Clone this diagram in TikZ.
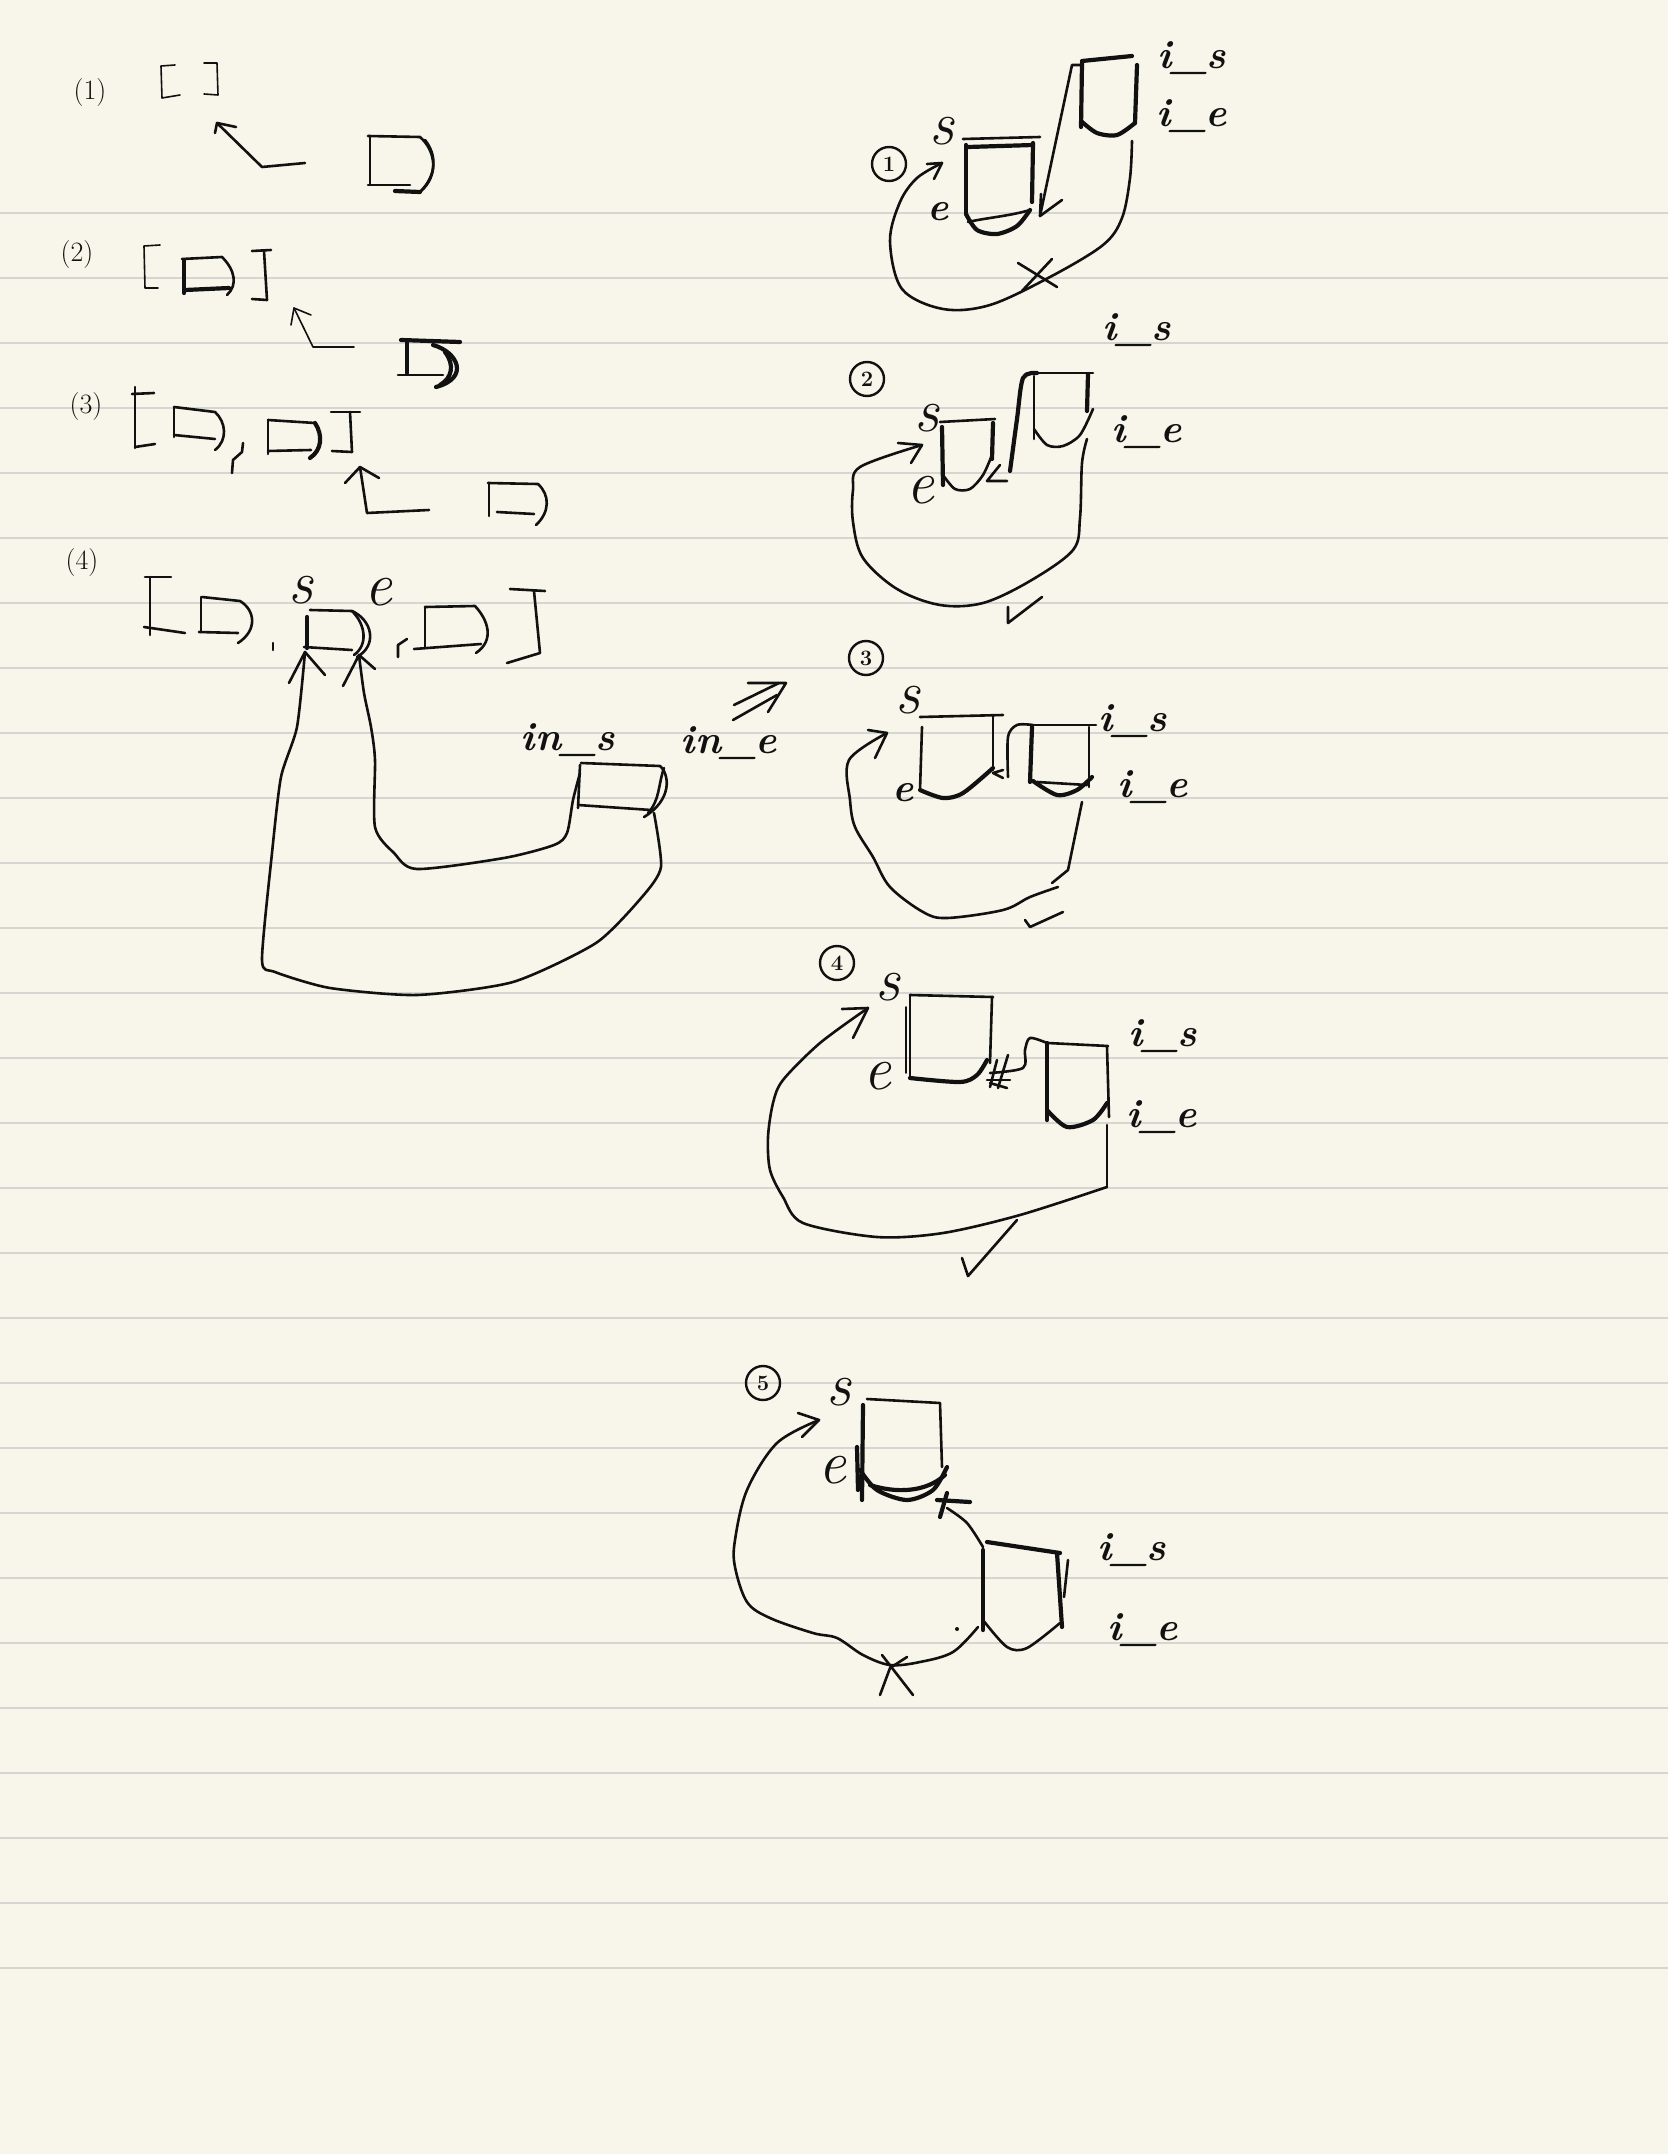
\documentclass[tikz,border=0pt]{standalone}
\usepackage{tikz}
\definecolor{paperbg}{HTML}{F8F6EA}
\definecolor{ruleline}{HTML}{D5D5D2}
\definecolor{ink}{HTML}{111111}
\tikzset{
  fine/.style={draw=ink,line width=1.6pt,line cap=round,line join=round},
  pen/.style={draw=ink,line width=2.6pt,line cap=round,line join=round},
  heavy/.style={draw=ink,line width=4.2pt,line cap=round,line join=round},
  tag/.style={inner sep=0pt,text=ink,font=\fontsize{28}{28}\selectfont},
  hand/.style={inner sep=0pt,text=ink,font=\bfseries\itshape\fontsize{40}{40}\selectfont},
  handbig/.style={inner sep=0pt,text=ink,font=\itshape\fontsize{62}{62}\selectfont},
  stepno/.style={circle,draw=ink,line width=2.4pt,inner sep=2pt,minimum size=34pt,text=ink,font=\bfseries\fontsize{22}{22}\selectfont},
}
\begin{document}
\begin{tikzpicture}[x=1pt,y=-1pt]
    % Paper
    \fill[paperbg] (0,0) rectangle (1668,2154);
    \useasboundingbox (0,0) rectangle (1668,2154);
    \foreach \i in {0,...,27}
        \draw[ruleline,line width=2.4pt] (0,213+65*\i) -- (1668,213+65*\i);

    % Left column labels
    \node[tag] (n1) at (90,93) {(1)};
    \node[tag] (n2) at (77,255) {(2)};
    \node[tag] (n3) at (86,407) {(3)};
    \node[tag] (n4) at (82,563) {(4)};

    % (1)
    \draw[fine] (175,65) -- (161,66) -- (162,98) -- (180,95);
    \draw[fine] (204,63) -- (217,63) -- (218,95) -- (204,94);
    \draw[pen] (370,136) -- (370,185);
    \draw[pen] (368,136) -- (420,137) .. controls (435,150) and (440,175) .. (420,192);
    \draw[pen] (368,185) -- (410,185);
    \draw[heavy] (395,191) -- (420,192);
    \draw[pen] (425,140) .. controls (437,155) and (437,175) .. (420,192);
    \coordinate (a1tail) at (305,163);
    \coordinate (a1tip) at (217,123);
    \draw[pen] (a1tail) -- (262,167) -- (a1tip);
    \draw[pen] (215,133) -- (a1tip) -- (236,127);

    % (2)
    \draw[fine] (160,245) -- (144,246) -- (145,288) -- (158,288);
    \draw[heavy] (184,260) -- (184,293);
    \draw[pen] (182,259) -- (222,257) .. controls (235,270) and (238,285) .. (227,295);
    \draw[heavy] (185,290) -- (229,288);
    \draw[pen] (252,251) -- (271,250);
    \draw[pen] (264,251) -- (267,300);
    \draw[pen] (252,299) -- (267,300);
    \coordinate (a2tail) at (354,347);
    \coordinate (a2tip) at (294,308);
    \draw[fine] (a2tail) -- (313,347) -- (a2tip);
    \draw[fine] (291,325) -- (a2tip) -- (311,315);
    \draw[heavy] (407,340) -- (407,373);
    \draw[heavy] (401,340) -- (460,342);
    \draw[pen] (398,375) -- (443,375);
    \draw[heavy] (433,345) .. controls (458,352) and (470,378) .. (436,387);
    \draw[heavy] (445,352) .. controls (455,365) and (452,378) .. (440,385);

    % (3)
    \draw[pen] (132,394) -- (154,393);
    \draw[pen] (135,387) -- (135,448);
    \draw[pen] (135,447) -- (155,444);
    \draw[pen] (174,407) -- (174,437);
    \draw[pen] (174,407) -- (215,412) .. controls (226,422) and (228,440) .. (215,450);
    \draw[pen] (174,435) -- (215,439);
    \draw[pen] (243,443) -- (242,452) -- (233,460) -- (232,473);
    \draw[pen] (268,420) -- (268,454);
    \draw[pen] (268,420) -- (315,423);
    \draw[heavy] (315,423) .. controls (323,435) and (322,450) .. (310,458);
    \draw[pen] (268,451) -- (311,450);
    \draw[pen] (331,412) -- (360,412);
    \draw[pen] (350,412) -- (352,452);
    \draw[pen] (332,451) -- (352,452);
    \coordinate (a3tail) at (429,510);
    \coordinate (a3tip) at (360,467);
    \draw[pen] (a3tail) -- (367,513) -- (a3tip);
    \draw[pen] (345,483) -- (a3tip) -- (379,478);
    \draw[pen] (489,483) -- (489,516);
    \draw[pen] (488,483) -- (538,484) .. controls (550,495) and (550,512) .. (536,525);
    \draw[pen] (497,512) -- (534,514);

    % (4) list
    \draw[pen] (171,577) -- (145,577);
    \draw[pen] (150,577) -- (150,635);
    \draw[pen] (144,627) -- (185,633);
    \draw[pen] (201,597) -- (201,632);
    \draw[pen] (202,597) -- (240,601) .. controls (255,610) and (258,630) .. (238,643);
    \draw[pen] (199,632) -- (238,633);
    \draw[pen] (273,643) -- (273,650);
    \draw[heavy] (307,617) -- (307,648);
    \draw[pen] (310,610) -- (352,611) .. controls (372,620) and (378,645) .. (357,657);
    \draw[pen] (352,611) .. controls (366,625) and (368,645) .. (354,655);
    \draw[pen] (304,647) -- (352,650);
    \draw[pen] (407,639) -- (398,645) -- (398,657);
    \draw[pen] (425,607) -- (425,647);
    \draw[pen] (425,607) -- (475,606) .. controls (488,620) and (495,640) .. (476,653);
    \draw[pen] (414,649) -- (481,644);
    \draw[pen] (510,589) -- (545,591);
    \draw[pen] (534,591) -- (540,653) -- (507,663);
    \node[handbig] (s4) at (301,590) {s};
    \node[handbig] (e4) at (378,592) {e};

    % (4) in-box and its links
    \draw[pen] (581,763) -- (660,766) .. controls (670,775) and (672,800) .. (644,817);
    \draw[pen] (664,768) .. controls (658,785) and (660,800) .. (648,813);
    \draw[pen] (580,765) -- (578,808);
    \draw[pen] (578,805) -- (651,810);
    \node[hand] (ins) at (568,740) {in\_s};
    \node[hand] (ine) at (729,743) {in\_e};
    \coordinate (l4tip) at (305,652);
    \coordinate (r4tip) at (359,655);
    \draw[pen] plot[smooth,tension=0.4] coordinates {(654,813) (661,867) (642,897) (596,943) (513,982) (417,995) (330,988) (275,972) (262,960) (272,853) (281,777) (297,727) (l4tip)};
    \draw[pen] (289,683) -- (l4tip) -- (325,675);
    \draw[pen] plot[smooth,tension=0.45] coordinates {(580,773) (573,800) (567,833) (554,845) (504,858) (417,869) (394,853) (375,827) (375,760) (371,727) (364,693) (r4tip)};
    \draw[pen] (343,686) -- (r4tip) -- (375,669);

    % Double arrow to the right column
    \draw[pen] (734,705) -- (779,683);
    \draw[pen] (733,720) -- (777,695);
    \draw[pen] (748,683) -- (786,683) -- (768,712);

    % Case 1
    \node[stepno] (c1) at (889,164) {1};
    \node[handbig] (s1) at (942,131) {s};
    \node[hand] (e1) at (938,212) {e};
    \node[hand] (is1) at (1192,58) {i\_s};
    \node[hand] (ie1) at (1192,116) {i\_e};
    \draw[pen] (963,139) -- (1040,137);
    \draw[heavy] (968,147) -- (1033,145);
    \draw[heavy] (966,145) -- (966,214);
    \draw[heavy] (1033,143) -- (1032,202);
    \draw[heavy] plot[smooth] coordinates {(966,214) (977,230) (997,234) (1017,226) (1030,210)};
    \draw[pen] (968,222) .. controls (985,218) and (1010,216) .. (1030,210);
    \draw[heavy] (1082,61) -- (1132,56);
    \draw[heavy] (1082,63) -- (1081,127);
    \draw[heavy] (1137,65) -- (1135,123);
    \draw[heavy] plot[smooth] coordinates {(1081,121) (1097,133) (1117,135) (1135,123)};
    \coordinate (link1tip) at (1040,216);
    \draw[pen] (1082,65) -- (1072,65) -- (link1tip);
    \draw[pen] (1041,194) -- (link1tip) -- (1062,200);
    \coordinate (loop1tip) at (942,163);
    \draw[pen] plot[smooth,tension=0.55] coordinates {(1132,141) (1130,178) (1122,218) (1103,245) (1050,277) (990,305) (943,309) (902,289) (890,241) (900,202) (917,178) (loop1tip)};
    \draw[pen] (927,164) -- (loop1tip) -- (934,179);
    \draw[pen] (1018,263) -- (1057,287);
    \draw[pen] (1052,259) -- (1022,291);

    % Case 2
    \node[stepno] (c2) at (867,379) {2};
    \node[hand] (is2) at (1137,330) {i\_s};
    \node[hand] (ie2) at (1147,432) {i\_e};
    \node[handbig] (s2) at (927,418) {s};
    \node[handbig] (e2) at (920,490) {e};
    \draw[pen] (940,422) -- (995,419);
    \draw[heavy] (942,427) -- (943,485);
    \draw[heavy] (993,423) -- (992,459);
    \draw[pen] plot[smooth] coordinates {(943,475) (955,489) (970,489) (983,475) (992,455)};
    \draw[pen] (1027,373) -- (1093,373);
    \draw[pen] (1034,376) -- (1034,439);
    \draw[heavy] (1088,374) -- (1087,411);
    \draw[pen] plot[smooth] coordinates {(1034,429) (1047,445) (1063,446) (1080,435) (1093,409)};
    \coordinate (link2tip) at (987,481);
    \draw[heavy] plot[smooth] coordinates {(1037,373) (1023,378) (1017,419) (1010,471)};
    \draw[pen] (1000,465) -- (link2tip) -- (1007,481);
    \coordinate (loop2tip) at (922,445);
    \draw[pen] plot[smooth,tension=0.55] coordinates {(1087,439) (1082,463) (1080,518) (1073,550) (1030,581) (983,603) (940,605) (897,589) (863,558) (853,522) (853,490) (860,467) (loop2tip)};
    \draw[pen] (898,443) -- (loop2tip) -- (911,463);
    \draw[pen] (1042,597) -- (1008,623) -- (1008,607);

    % Case 3
    \node[stepno] (c3) at (866,658) {3};
    \node[handbig] (s3) at (908,700) {s};
    \node[hand] (e3) at (903,793) {e};
    \node[hand] (is3) at (1133,721) {i\_s};
    \node[hand] (ie3) at (1153,787) {i\_e};
    \draw[pen] (920,717) -- (1003,715);
    \draw[pen] (922,727) -- (920,790);
    \draw[pen] (993,716) -- (993,770);
    \draw[heavy] plot[smooth] coordinates {(920,790) (943,798) (963,793) (993,768)};
    \draw[pen] (1033,725) -- (1096,725);
    \draw[heavy] (1032,727) -- (1030,782);
    \draw[pen] (1089,727) -- (1089,787);
    \draw[heavy] plot[smooth] coordinates {(1033,781) (1057,795) (1077,790) (1092,777)};
    \draw[pen] (1037,782) -- (1087,785);
    \coordinate (link3tip) at (993,773);
    \draw[pen] plot[smooth] coordinates {(1033,725) (1017,725) (1008,737) (1008,777)};
    \draw[pen] (1003,770) -- (link3tip) -- (1003,778);
    \coordinate (loop3tip) at (887,733);
    \draw[pen] (1082,802) -- (1068,870) -- (1052,883);
    \draw[pen] plot[smooth,tension=0.55] coordinates {(1058,887) (1030,897) (1003,910) (947,918) (923,912) (890,887) (873,857) (855,827) (850,800) (849,760) (loop3tip)};
    \draw[pen] (868,730) -- (loop3tip) -- (875,758);
    \draw[pen] (1063,912) -- (1030,927) -- (1025,920);

    % Case 4
    \node[stepno] (c4) at (837,963) {4};
    \node[handbig] (s5) at (888,987) {s};
    \node[handbig] (e5) at (877,1076) {e};
    \node[hand] (is5) at (1163,1036) {i\_s};
    \node[hand] (ie5) at (1162,1117) {i\_e};
    \draw[pen] (910,995) -- (993,997);
    \draw[pen] (910,995) -- (910,1077);
    \draw[fine] (906,1007) -- (906,1073);
    \draw[pen] (992,997) -- (990,1063);
    \draw[heavy] plot[smooth] coordinates {(910,1078) (960,1082) (977,1075) (987,1060)};
    \draw[pen] (1048,1043) -- (1108,1046);
    \draw[heavy] (1047,1043) -- (1047,1120);
    \draw[pen] (1107,1047) -- (1109,1117);
    \draw[heavy] plot[smooth] coordinates {(1047,1110) (1067,1127) (1093,1120) (1107,1103)};
    \coordinate (link5tip) at (990,1073);
    \draw[pen] plot[smooth] coordinates {(1047,1043) (1030,1038) (1025,1050) (1023,1068) (link5tip)};
    \draw[pen] (997,1060) -- (990,1087);
    \draw[pen] (1008,1055) -- (998,1088);
    \draw[pen] (987,1080) -- (1010,1080);
    \draw[pen] (990,1083) -- (1007,1088);
    \coordinate (loop5tip) at (868,1008);
    \draw[pen] (1107,1125) -- (1107,1187);
    \draw[pen] plot[smooth,tension=0.5] coordinates {(1107,1187) (1020,1215) (943,1233) (877,1237) (803,1223) (783,1197) (770,1170) (768,1137) (773,1103) (783,1080) (820,1043) (loop5tip)};
    \draw[pen] (842,1009) -- (loop5tip) -- (853,1038);
    \draw[pen] (1017,1220) -- (968,1276) -- (962,1258);

    % Case 5
    \node[stepno] (c5) at (763,1383) {5};
    \node[handbig] (s6) at (839,1392) {s};
    \node[handbig] (e6) at (832,1470) {e};
    \node[hand] (is6) at (1132,1550) {i\_s};
    \node[hand] (ie6) at (1143,1630) {i\_e};
    \draw[pen] (867,1399) -- (940,1403) -- (942,1467);
    \draw[heavy] (863,1405) -- (862,1500);
    \draw[heavy] (857,1447) -- (858,1490);
    \draw[heavy] plot[smooth] coordinates {(860,1470) (877,1490) (907,1500) (933,1490) (947,1467)};
    \draw[heavy] (870,1485) .. controls (895,1493) and (925,1493) .. (945,1475);
    \draw[heavy] (987,1542) -- (1060,1553);
    \draw[heavy] (1057,1553) -- (1062,1627);
    \draw[pen] (1068,1560) -- (1064,1597);
    \draw[heavy] (983,1550) -- (983,1630);
    \draw[pen] plot[smooth] coordinates {(983,1620) (1007,1647) (1027,1648) (1060,1623)};
    \coordinate (link6tip) at (947,1508);
    \draw[pen] plot[smooth] coordinates {(983,1547) (967,1523) (link6tip)};
    \draw[heavy] (937,1500) -- (970,1502);
    \draw[heavy] (940,1517) -- (947,1493);
    \coordinate (loop6tip) at (819,1420);
    \draw[pen] plot[smooth,tension=0.55] coordinates {(978,1627) (953,1652) (920,1662) (890,1665) (863,1655) (837,1638) (813,1633) (770,1618) (747,1602) (735,1567) (735,1540) (747,1490) (777,1443) (loop6tip)};
    \draw[pen] (798,1413) -- (loop6tip) -- (802,1437);
    \draw[pen] (882,1655) -- (913,1695);
    \draw[pen] (907,1657) -- (890,1668) -- (880,1695);
    \fill[ink] (957,1629) circle (2pt);
\end{tikzpicture}
\end{document}
